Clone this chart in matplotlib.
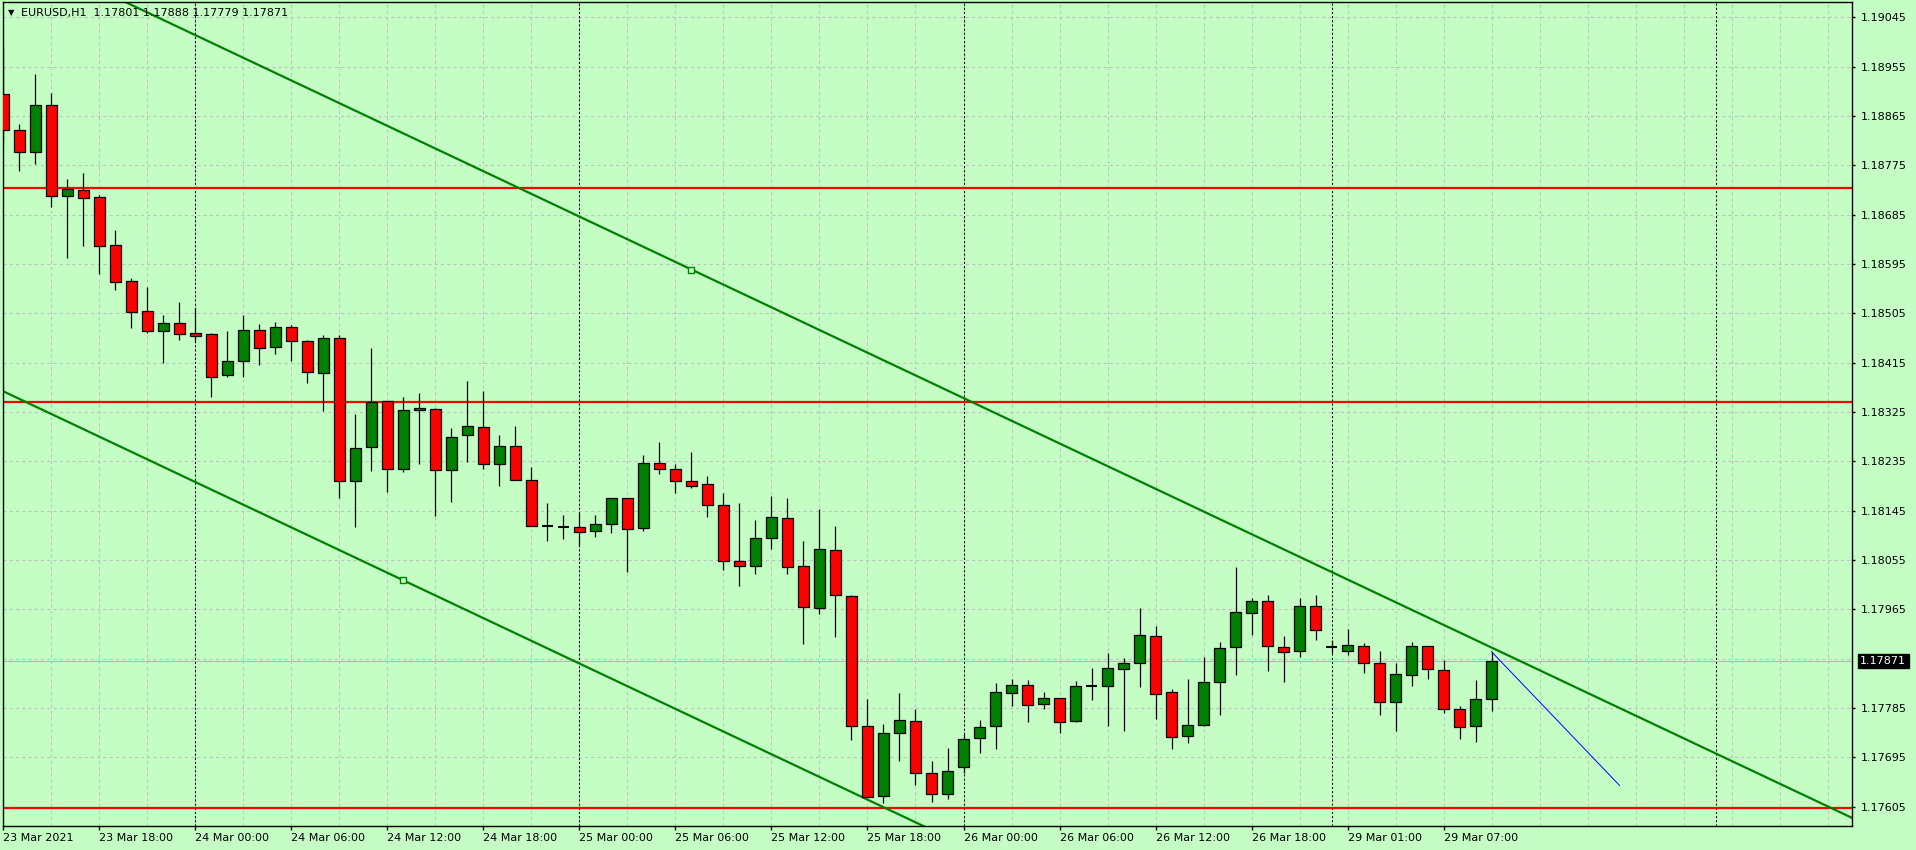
import numpy as np
import matplotlib.pyplot as plt
from matplotlib.transforms import blended_transform_factory

# chart header
symbol = 'EURUSD,H1'
last_ohlc = ['1.17801', '1.17888', '1.17779', '1.17871']
last_price = 1.17871

# H1 bars, index 0 = 23 Mar 12:00 ... 93 = 29 Mar 10:00
opens = [1.18905, 1.18839, 1.18800, 1.18885, 1.18720, 1.18730, 1.18717, 1.18629, 1.18564, 1.18509,
         1.18472, 1.18487, 1.18469, 1.18467, 1.18393, 1.18419, 1.18474, 1.18444, 1.18480, 1.18454,
         1.18397, 1.18461, 1.18199, 1.18261, 1.18345, 1.18222, 1.18328, 1.18330, 1.18220, 1.18283,
         1.18297, 1.18231, 1.18264, 1.18202, 1.18118, 1.18116, 1.18115, 1.18109, 1.18120, 1.18168,
         1.18113, 1.18233, 1.18222, 1.18199, 1.18193, 1.18155, 1.18053, 1.18044, 1.18096, 1.18131,
         1.18044, 1.17967, 1.18073, 1.17989, 1.17753, 1.17624, 1.17739, 1.17761, 1.17666, 1.17629,
         1.17677, 1.17730, 1.17752, 1.17812, 1.17828, 1.17792, 1.17803, 1.17761, 1.17825, 1.17825,
         1.17857, 1.17867, 1.17916, 1.17814, 1.17735, 1.17755, 1.17832, 1.17896, 1.17958, 1.17981,
         1.17896, 1.17889, 1.17971, 1.17896, 1.17890, 1.17899, 1.17867, 1.17797, 1.17846, 1.17899,
         1.17854, 1.17783, 1.17752, 1.17801]
highs = [1.18993, 1.18850, 1.18942, 1.18907, 1.18750, 1.18761, 1.18721, 1.18657, 1.18570, 1.18553,
         1.18502, 1.18526, 1.18514, 1.18470, 1.18473, 1.18502, 1.18486, 1.18489, 1.18483, 1.18456,
         1.18465, 1.18465, 1.18321, 1.18442, 1.18345, 1.18352, 1.18360, 1.18332, 1.18296, 1.18382,
         1.18363, 1.18283, 1.18300, 1.18225, 1.18159, 1.18138, 1.18141, 1.18138, 1.18169, 1.18168,
         1.18246, 1.18270, 1.18231, 1.18253, 1.18208, 1.18178, 1.18159, 1.18129, 1.18172, 1.18169,
         1.18089, 1.18148, 1.18118, 1.17991, 1.17801, 1.17756, 1.17812, 1.17783, 1.17688, 1.17712,
         1.17737, 1.17764, 1.17831, 1.17839, 1.17837, 1.17814, 1.17803, 1.17834, 1.17859, 1.17885,
         1.17876, 1.17967, 1.17934, 1.17819, 1.17839, 1.17878, 1.17905, 1.18043, 1.17985, 1.17992,
         1.17916, 1.17985, 1.17992, 1.17910, 1.17929, 1.17903, 1.17889, 1.17868, 1.17905, 1.17899,
         1.17872, 1.17789, 1.17837, 1.17888]
lows = [1.18818, 1.18765, 1.18778, 1.18699, 1.18606, 1.18628, 1.18577, 1.18548, 1.18479, 1.18470,
        1.18415, 1.18457, 1.18455, 1.18353, 1.18389, 1.18389, 1.18411, 1.18431, 1.18419, 1.18378,
        1.18327, 1.18169, 1.18116, 1.18218, 1.18180, 1.18216, 1.18231, 1.18136, 1.18161, 1.18234,
        1.18222, 1.18191, 1.18202, 1.18118, 1.18089, 1.18094, 1.18081, 1.18097, 1.18105, 1.18033,
        1.18108, 1.18212, 1.18178, 1.18187, 1.18134, 1.18037, 1.18008, 1.18030, 1.18076, 1.18030,
        1.17902, 1.17957, 1.17915, 1.17727, 1.17622, 1.17612, 1.17689, 1.17644, 1.17614, 1.17620,
        1.17666, 1.17704, 1.17710, 1.17789, 1.17759, 1.17783, 1.17739, 1.17759, 1.17799, 1.17753,
        1.17744, 1.17823, 1.17766, 1.17711, 1.17721, 1.17753, 1.17773, 1.17846, 1.17919, 1.17853,
        1.17833, 1.17879, 1.17910, 1.17885, 1.17881, 1.17849, 1.17772, 1.17744, 1.17825, 1.17839,
        1.17777, 1.17728, 1.17723, 1.17779]
closes = [1.18839, 1.18800, 1.18885, 1.18720, 1.18731, 1.18716, 1.18628, 1.18563, 1.18508, 1.18473,
          1.18487, 1.18468, 1.18463, 1.18389, 1.18419, 1.18474, 1.18442, 1.18481, 1.18455, 1.18399,
          1.18461, 1.18200, 1.18259, 1.18343, 1.18222, 1.18328, 1.18332, 1.18219, 1.18279, 1.18299,
          1.18230, 1.18264, 1.18202, 1.18118, 1.18118, 1.18116, 1.18107, 1.18120, 1.18168, 1.18111,
          1.18233, 1.18222, 1.18199, 1.18191, 1.18155, 1.18053, 1.18044, 1.18096, 1.18133, 1.18042,
          1.17969, 1.18075, 1.17991, 1.17753, 1.17622, 1.17739, 1.17763, 1.17666, 1.17629, 1.17670,
          1.17728, 1.17750, 1.17814, 1.17828, 1.17790, 1.17803, 1.17759, 1.17826, 1.17825, 1.17859,
          1.17868, 1.17918, 1.17810, 1.17733, 1.17755, 1.17832, 1.17894, 1.17960, 1.17981, 1.17898,
          1.17887, 1.17971, 1.17927, 1.17896, 1.17901, 1.17867, 1.17797, 1.17848, 1.17899, 1.17856,
          1.17783, 1.17750, 1.17801, 1.17871]

# time axis (bar index -> label)
tick_bars = [0, 6, 12, 18, 24, 30, 36, 42, 48, 54, 60, 66, 72, 78, 84, 90]
tick_labels = ['23 Mar 2021', '23 Mar 18:00', '24 Mar 00:00', '24 Mar 06:00', '24 Mar 12:00',
               '24 Mar 18:00', '25 Mar 00:00', '25 Mar 06:00', '25 Mar 12:00', '25 Mar 18:00',
               '26 Mar 00:00', '26 Mar 06:00', '26 Mar 12:00', '26 Mar 18:00', '29 Mar 01:00',
               '29 Mar 07:00']
day_breaks = [12, 36, 60, 83, 107]

# price scale
price_ticks = [1.17605, 1.17695, 1.17785, 1.17875, 1.17965, 1.18055, 1.18145, 1.18235, 1.18325,
               1.18415, 1.18505, 1.18595, 1.18685, 1.18775, 1.18865, 1.18955, 1.19045]

# drawn objects
levels = [1.18733, 1.18344, 1.17602]
upper_x = [43, 100]
upper_y = [1.18585, 1.17799]
lower_x = [25, 55]
lower_y = [1.18018, 1.17603]
proj_x = [93, 101]
proj_y = [1.17888, 1.17644]

bg = '#C4FEC4'
grid_c = '#C0C0C0'
bull = '#008000'
bear = '#FF0000'

fig = plt.figure(figsize=(19.16, 8.5), dpi=100, facecolor=bg)
ax = fig.add_axes([3 / 1916, 24 / 850, 1849 / 1916, 824 / 850])
ax.set_facecolor(bg)
ax.set_xlim(-0.03, 115.53)
ax.set_ylim(1.17570, 1.19073)

# grid
for xg in range(0, 116, 3):
    ax.axvline(xg, color=grid_c, lw=0.75, ls=(0, (3, 3)), zorder=0)
for p in price_ticks:
    ax.axhline(p, color=grid_c, lw=0.75, ls=(0, (3, 3)), zorder=0)
for d in day_breaks:
    ax.axvline(d, color='black', lw=0.75, ls=(0, (2, 2)), zorder=1)

# last price line
ax.axhline(last_price, color='#B4B4B4', lw=0.75, zorder=1)

# horizontal levels
for lv in levels:
    ax.axhline(lv, color=bear, lw=1.6, zorder=2)

# channel
xs = np.array([-2, 120])
slope = (upper_y[1] - upper_y[0]) / (upper_x[1] - upper_x[0])
ax.plot(xs, upper_y[0] + slope * (xs - upper_x[0]), color=bull, lw=1.6, zorder=2)
ax.plot(xs, lower_y[0] + slope * (xs - lower_x[0]), color=bull, lw=1.6, zorder=2)
ax.plot([upper_x[0]], [upper_y[0]], marker='s', ms=4, mfc=bg, mec=bull, mew=1, zorder=3)
ax.plot([lower_x[0]], [lower_y[0]], marker='s', ms=4, mfc=bg, mec=bull, mew=1, zorder=3)

# projection
ax.plot(proj_x, proj_y, color='#0000FF', lw=0.7, zorder=3)

# candles
idx = np.arange(len(opens))
o = np.array(opens)
c = np.array(closes)
ax.vlines(idx, lows, highs, color='black', lw=0.9, zorder=4)
w = 0.66
for i in idx:
    if c[i] == o[i]:
        ax.hlines(o[i], i - w / 2, i + w / 2, color='black', lw=1.5, zorder=5)
    else:
        col = bull if c[i] > o[i] else bear
        ax.bar(i, abs(c[i] - o[i]), bottom=min(o[i], c[i]), width=w, color=col,
               edgecolor='black', linewidth=0.9, zorder=5)

# axes styling
for s in ax.spines.values():
    s.set_color('black')
    s.set_linewidth(1)
ax.yaxis.tick_right()
shown = [p for p in price_ticks if abs(p - last_price) > 0.0002]
ax.set_yticks(shown)
ax.set_yticklabels(['%.5f' % p for p in shown])
ax.set_xticks(tick_bars)
ax.set_xticklabels(tick_labels)
for lbl in ax.get_xticklabels():
    lbl.set_horizontalalignment('left')
ax.tick_params(axis='y', direction='out', length=2.5, width=1, pad=4, labelsize=8, colors='black')
ax.tick_params(axis='x', direction='out', length=3, width=1, pad=2, labelsize=8, colors='black')

# current price tag
tr = blended_transform_factory(ax.transAxes, ax.transData)
ax.text(1.0045, last_price, '1.17871', transform=tr, color='white', fontsize=8,
        va='center', ha='left', clip_on=False,
        bbox=dict(boxstyle='square,pad=0.2', facecolor='black', edgecolor='black'))

# header
fig.text(8 / 1916, 1 - 13 / 850, '\u25bc', fontsize=6, va='center', ha='left')
fig.text(21 / 1916, 1 - 13 / 850, symbol + '  ' + ' '.join(last_ohlc), fontsize=8,
         va='center', ha='left')

fig.savefig('out.png', dpi=100, facecolor=bg)
